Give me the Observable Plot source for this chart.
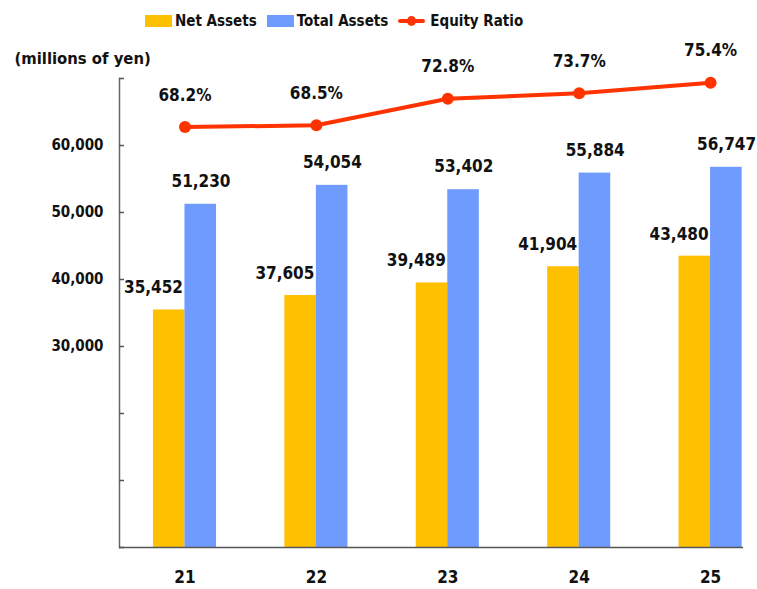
<!DOCTYPE html>
<html>
<head>
<meta charset="utf-8">
<script src="https://cdn.jsdelivr.net/npm/d3@7"></script>
<script src="https://cdn.jsdelivr.net/npm/@observablehq/plot@0.6"></script>
<style>
  html, body { margin: 0; padding: 0; background: #fff; }
  body { width: 757px; height: 589px; overflow: hidden;
         font-family: "DejaVu Sans Condensed", "DejaVu Sans", sans-serif; font-stretch: condensed; font-weight: bold; color: #111; }
  #legend { height: 42px; display: flex; align-items: center; padding-left: 145px; font-size: 15px; box-sizing: border-box; }
  .sw { width: 27px; height: 12px; margin-right: 3px; flex: none; }
  .item { display: flex; align-items: center; margin-right: 10px; }
  .ln { position: relative; width: 27px; height: 12px; margin-right: 5px; flex: none; }
  .ln::before { content: ""; position: absolute; left: 0; right: 0; top: 4px; height: 4px; background: #FF3300; border-radius: 2px; }
  .ln::after { content: ""; position: absolute; left: 9px; top: 1px; width: 9px; height: 10px; background: #FF3300; border-radius: 50%; }
  #chart svg { display: block; overflow: visible; }
</style>
</head>
<body>
<div id="legend"></div>
<div id="chart"></div>
<script>
// ---- data ----
const years = ["21", "22", "23", "24", "25"];
const netAssets = [35452, 37605, 39489, 41904, 43480];
const totalAssets = [51230, 54054, 53402, 55884, 56747];
const equityRatio = [68.2, 68.5, 72.8, 73.7, 75.4];
const yTicks = [0, 10000, 20000, 30000, 40000, 50000, 60000, 70000];
const yLabeledTicks = [30000, 40000, 50000, 60000];
const seriesNames = ["Net Assets", "Total Assets", "Equity Ratio"];
const unitLabel = "(millions of yen)";

const colors = { net: "#FFC000", total: "#6F9BFF", ratio: "#FF3300" };
// secondary (percent) axis expressed in left-axis units
const RATIO_TO_Y = 920;

// ---- legend ----
const legend = document.getElementById("legend");
legend.innerHTML =
  `<div class="item"><div class="sw" style="background:${colors.net}"></div>${seriesNames[0]}</div>` +
  `<div class="item"><div class="sw" style="background:${colors.total}"></div>${seriesNames[1]}</div>` +
  `<div class="item"><div class="ln"></div>${seriesNames[2]}</div>`;

// ---- chart ----
const rows = years.map((y, i) => ({ year: y, net: netAssets[i], total: totalAssets[i], ratio: equityRatio[i] }));
const W = 757, H = 547;
const mL = 119, mR = 14, mT = 36, mB = 42;
const fontFamily = '"DejaVu Sans Condensed", "DejaVu Sans", sans-serif';

const chart = Plot.plot({
  width: W, height: H,
  marginLeft: mL, marginRight: mR, marginTop: mT, marginBottom: mB,
  style: { fontFamily, fontStretch: "condensed", fontWeight: "bold", fontSize: "17px", color: "#111", background: "transparent", overflow: "visible" },
  x: { type: "band", domain: years, range: [118.8, 775.8], paddingInner: 0.52, paddingOuter: 0.26, align: 0.5, round: false },
  y: { domain: [0, 70000], range: [H - mB, mT] },
  marks: [
    Plot.barY(rows, { x: "year", y: "net", fill: colors.net, insetRight: 31.5 }),
    Plot.barY(rows, { x: "year", y: "total", fill: colors.total, insetLeft: 31.5 }),
    Plot.frame({ anchor: "left", stroke: "#666", strokeWidth: 1.5 }),
    Plot.ruleY([0], { stroke: "#555", strokeWidth: 1.5 }),
    Plot.axisY({ ticks: yTicks, tickSize: -5, tickFormat: () => "", label: null, stroke: "#555", strokeWidth: 1.5 }),
    Plot.axisY({ ticks: yLabeledTicks, tickSize: 0, tickPadding: 16, tickFormat: d3.format(","), label: null, fontSize: 15 }),
    Plot.axisX({ tickSize: 0, tickPadding: 23, label: null, fontSize: 17 }),
    Plot.text([unitLabel], { frameAnchor: "top-left", text: d => d, dx: 14 - mL, dy: -20, textAnchor: "start", lineAnchor: "middle", fontSize: 16.5 }),
    Plot.text(rows, { x: "year", y: "net", text: d => d3.format(",")(d.net), dx: -31.5, dy: -22, lineAnchor: "middle", fontSize: 17 }),
    Plot.text(rows, { x: "year", y: "total", text: d => d3.format(",")(d.total), dx: 16, dy: -23, lineAnchor: "middle", fontSize: 17 }),
    Plot.line(rows, { x: "year", y: d => d.ratio * RATIO_TO_Y, stroke: colors.ratio, strokeWidth: 4 }),
    Plot.dot(rows, { x: "year", y: d => d.ratio * RATIO_TO_Y, r: 6, fill: colors.ratio }),
    Plot.text(rows, { x: "year", y: d => d.ratio * RATIO_TO_Y, text: d => d.ratio.toFixed(1) + "%", dy: -32, lineAnchor: "middle", fontSize: 17 })
  ]
});
document.getElementById("chart").appendChild(chart);
</script>
</body>
</html>
